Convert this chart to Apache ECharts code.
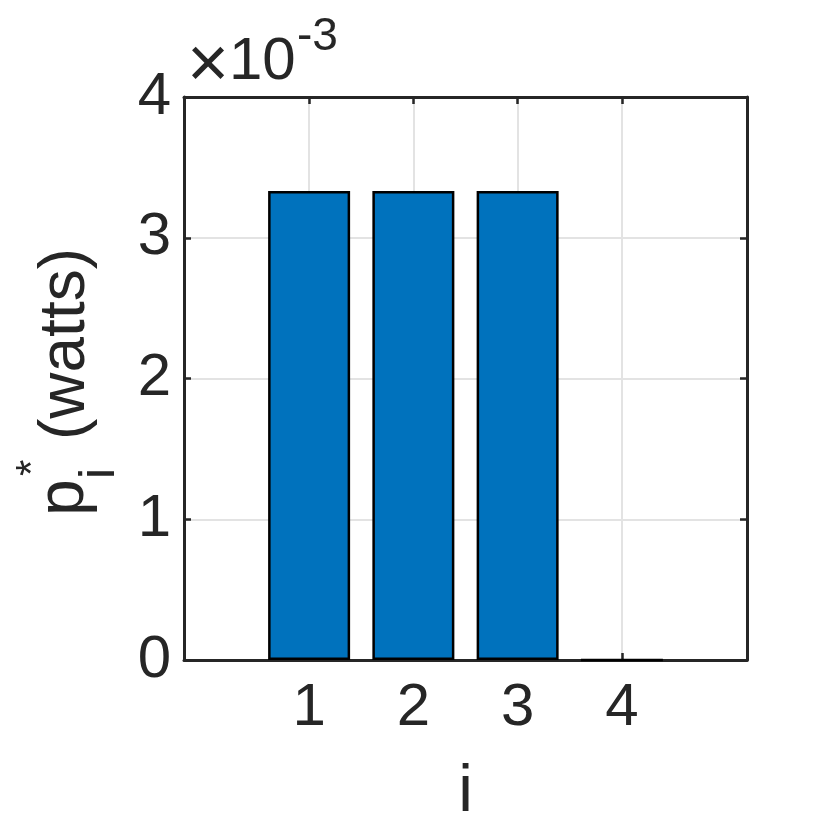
<!DOCTYPE html>
<html>
<head>
<meta charset="utf-8">
<script src="https://cdn.jsdelivr.net/npm/echarts@6/dist/echarts.min.js"></script>
<style>html,body{margin:0;padding:0;background:#fff}#c{width:830px;height:830px}</style>
</head>
<body>
<div id="c"></div>
<script>
const categories = [1, 2, 3, 4];
const powerWatts = [0.003333, 0.003333, 0.003333, 0];
const xTicks = [1, 2, 3, 4];
const yTicks = [0, 0.001, 0.002, 0.003, 0.004];

const FONT = '"Liberation Sans", Arial, Helvetica, sans-serif';
const AX = '#262626';
const chart = echarts.init(document.getElementById('c'), null, {renderer: 'canvas'});

const xMin = -0.2, xMax = 5.2;
const option = {
  animation: false,
  backgroundColor: '#fff',
  grid: {left: 184, right: 83, top: 97, bottom: 170, containLabel: false, outerBoundsMode: 'none'},
  xAxis: [{
    type: 'value', min: xMin, max: xMax, position: 'bottom',
    name: 'i', nameLocation: 'middle', nameGap: 100,
    nameTextStyle: {fontFamily: FONT, fontSize: 66, color: AX},
    axisLine: {show: true, onZero: false, lineStyle: {color: AX, width: 3}},
    axisTick: {show: true, inside: true, length: 7, customValues: xTicks, lineStyle: {color: AX, width: 2.5}},
    axisLabel: {show: true, customValues: xTicks, margin: 18, fontFamily: FONT, fontSize: 60, color: AX},
    splitLine: {show: true, lineStyle: {color: '#e3e3e3', width: 2}}
  }, {
    type: 'value', min: xMin, max: xMax, position: 'top',
    axisLine: {show: true, onZero: false, lineStyle: {color: AX, width: 3}},
    axisTick: {show: true, inside: true, length: 7, customValues: xTicks, lineStyle: {color: AX, width: 2.5}},
    axisLabel: {show: false}, splitLine: {show: false}
  }],
  yAxis: [{
    type: 'value', min: yTicks[0], max: yTicks[yTicks.length - 1], interval: 0.001, position: 'left',
    axisLine: {show: true, onZero: false, lineStyle: {color: AX, width: 3}},
    axisTick: {show: true, inside: true, length: 7, lineStyle: {color: AX, width: 2.5}},
    axisLabel: {show: true, margin: 13, fontFamily: FONT, fontSize: 60, color: AX,
      formatter: v => String(Math.round(v * 1000))},
    splitLine: {show: true, lineStyle: {color: '#e3e3e3', width: 2}}
  }, {
    type: 'value', min: yTicks[0], max: yTicks[yTicks.length - 1], interval: 0.001, position: 'right',
    axisLine: {show: true, onZero: false, lineStyle: {color: AX, width: 3}},
    axisTick: {show: true, inside: true, length: 7, lineStyle: {color: AX, width: 2.5}},
    axisLabel: {show: false}, splitLine: {show: false}
  }],
  series: [{
    type: 'bar', xAxisIndex: 0, yAxisIndex: 0,
    data: categories.map((c, i) => [c, powerWatts[i]]),
    barWidth: 82,
    itemStyle: {color: '#0072BD', borderColor: '#000', borderWidth: 2.5},
    z: 3
  }],
  graphic: [
    {type: 'text', left: 187, top: 31, style: {text: '×', font: '72px ' + FONT, fill: AX}},
    {type: 'text', left: 229, top: 32, style: {text: '10', font: '60px ' + FONT, fill: AX}},
    {type: 'text', left: 297, top: 14, style: {text: '-3', font: '46px ' + FONT, fill: AX}},
    {type: 'group', x: 88, y: 516, rotation: Math.PI / 2, children: [
      {type: 'text', x: 0, y: -56, style: {text: 'p', font: '66px ' + FONT, fill: AX}},
      {type: 'text', x: 37, y: -13, style: {text: 'i', font: '50px ' + FONT, fill: AX}},
      {type: 'text', x: 40, y: -76, style: {text: '*', font: '42px ' + FONT, fill: AX}},
      {type: 'text', x: 76, y: -54, style: {text: '(watts)', font: '64px ' + FONT, fill: AX}}
    ]}
  ]
};
chart.setOption(option);
</script>
</body>
</html>
